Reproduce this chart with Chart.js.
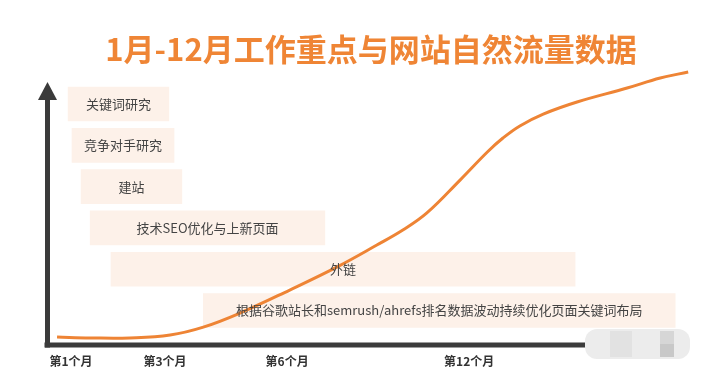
<!DOCTYPE html>
<html>
<head>
<meta charset="utf-8">
<script src="https://cdn.jsdelivr.net/npm/chart.js@4.4.1/dist/chart.umd.min.js"></script>
<style>
  html, body { margin: 0; padding: 0; background: #ffffff; }
  #wrap { width: 706px; height: 377px; position: relative; }
</style>
</head>
<body>
<div id="wrap"><canvas id="c" width="706" height="377"></canvas></div>
<script>
// ---- data ----
const titleText = '1月-12月工作重点与网站自然流量数据';
const tickPositions = [3.85, 18.3, 37.1, 65.1];
const tickLabels = ['第1个月', '第3个月', '第6个月', '第12个月'];

const taskLabels = ['关键词研究', '竞争对手研究', '建站', '技术SEO优化与上新页面', '外链', '根据谷歌站长和semrush/ahrefs排名数据波动持续优化页面关键词布局'];
const taskStart = [3.4, 4.0, 5.4, 6.8, 10.0, 24.2];
const taskEnd   = [18.9, 19.7, 20.9, 42.9, 81.4, 96.8];

const trafficX = [1.7, 6.8, 12.9, 19.1, 24.2, 29.9, 37.5, 44.8, 50.9, 54.9, 58.6, 63.7, 67.9, 70.3, 72.9, 76.5, 81.7, 89.4, 94.5, 98.8];
const trafficY = [3.0, 2.7, 2.7, 3.8, 6.8, 12.2, 20.9, 29.7, 38.0, 43.7, 50.2, 62.7, 73.4, 78.7, 83.3, 87.8, 92.4, 97.7, 101.5, 103.8];

const FONT = '"Noto Sans CJK SC", "Noto Sans", sans-serif';

const barData = taskLabels.map((l, i) => ({ x: [taskStart[i], taskEnd[i]], y: i }));
const lineData = trafficX.map((x, i) => ({ x: x, y: trafficY[i] }));

const decorPlugin = {
  id: 'decor',
  beforeDatasetsDraw(chart) {
    const ctx = chart.ctx;
    const a = chart.chartArea;
    ctx.save();
    ctx.strokeStyle = '#3b3b3b';
    ctx.fillStyle = '#3b3b3b';
    ctx.lineWidth = 5;
    const ax = a.left + 1.5;
    const ay = a.bottom;
    // x axis
    ctx.beginPath();
    ctx.moveTo(ax - 3, ay);
    ctx.lineTo(600, ay);
    ctx.stroke();
    // y axis
    ctx.beginPath();
    ctx.moveTo(ax, ay + 2.5);
    ctx.lineTo(ax, a.top + 16);
    ctx.stroke();
    // arrow head
    ctx.beginPath();
    ctx.moveTo(ax, a.top);
    ctx.lineTo(ax - 9.5, a.top + 18);
    ctx.lineTo(ax + 9.5, a.top + 18);
    ctx.closePath();
    ctx.fill();
    ctx.restore();
  },
  afterDatasetsDraw(chart) {
    const ctx = chart.ctx;
    const meta = chart.getDatasetMeta(0);
    ctx.save();
    ctx.font = '13px ' + FONT;
    ctx.fillStyle = '#444444';
    ctx.textAlign = 'center';
    ctx.textBaseline = 'middle';
    meta.data.forEach((el, i) => {
      const p = el.getProps(['x', 'y', 'base'], true);
      const cx = (p.x + p.base) / 2;
      ctx.fillText(taskLabels[i], cx, p.y);
    });
    // blurred watermark block at end of x axis
    ctx.fillStyle = '#ececec';
    const bx = 585, by = 329, bw = 105, bh = 30, r = 12;
    ctx.beginPath();
    ctx.moveTo(bx + r, by);
    ctx.arcTo(bx + bw, by, bx + bw, by + bh, r);
    ctx.arcTo(bx + bw, by + bh, bx, by + bh, r);
    ctx.arcTo(bx, by + bh, bx, by, r);
    ctx.arcTo(bx, by, bx + bw, by, r);
    ctx.closePath();
    ctx.fill();
    ctx.fillStyle = '#e2e2e2';
    ctx.fillRect(610, 331, 22, 26);
    ctx.fillStyle = '#d6d6d6';
    ctx.fillRect(660, 331, 14, 13);
    ctx.fillStyle = '#c8c8c8';
    ctx.fillRect(660, 344, 14, 13);
    ctx.restore();
  }
};

new Chart(document.getElementById('c'), {
  type: 'bar',
  data: {
    datasets: [
      {
        type: 'bar',
        indexAxis: 'y',
        data: barData,
        xAxisID: 'x',
        yAxisID: 'yb',
        backgroundColor: '#fdf1e9',
        borderWidth: 0,
        barThickness: 34,
        order: 2
      },
      {
        type: 'line',
        data: lineData,
        xAxisID: 'x',
        yAxisID: 'y',
        borderColor: '#ee8435',
        borderWidth: 3,
        pointRadius: 0,
        fill: false,
        tension: 0.4,
        clip: false,
        order: 1
      }
    ]
  },
  options: {
    responsive: false,
    animation: false,
    layout: { padding: { left: 46, right: 10, top: 0, bottom: 2 } },
    plugins: {
      legend: { display: false },
      tooltip: { enabled: false },
      title: {
        display: true,
        text: titleText,
        color: '#ef8535',
        font: { family: FONT, size: 31, weight: 'bold', lineHeight: 1.2 },
        padding: { top: 31, bottom: 13.8 }
      }
    },
    scales: {
      x: {
        type: 'linear',
        min: 0,
        max: 100,
        offset: false,
        grid: { display: false, drawTicks: false, offset: false },
        border: { display: false },
        afterBuildTicks: (scale) => { scale.ticks = tickPositions.map(v => ({ value: v })); },
        afterFit: (scale) => { scale.height = 30; },
        ticks: {
          padding: 9,
          autoSkip: false,
          maxRotation: 0,
          color: '#333333',
          font: { family: FONT, size: 12, weight: 'bold' },
          callback: (v, i) => tickLabels[i]
        }
      },
      y: { type: 'linear', min: 0, max: 100, display: false, offset: false },
      yb: { type: 'linear', min: -0.533, max: 5.835, reverse: true, display: false, offset: false, grid: { offset: false } }
    }
  },
  plugins: [decorPlugin]
});
</script>
</body>
</html>
